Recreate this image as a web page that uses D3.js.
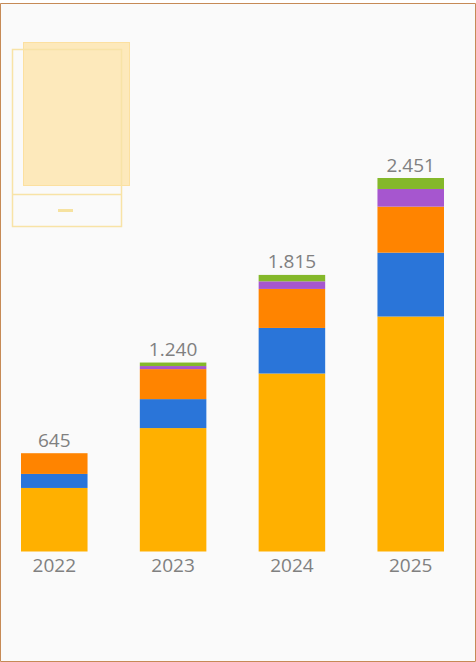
<!DOCTYPE html>
<html>
<head>
<meta charset="utf-8">
<script src="https://cdn.jsdelivr.net/npm/d3@7"></script>
<style>
html, body { margin: 0; padding: 0; background: #fff; overflow: hidden; }
svg { display: block; }
text { font-family: "Open Sans", sans-serif; fill: #808080; font-size: 19px; }
</style>
</head>
<body>
<svg id="chart" width="476" height="662"></svg>
<script>
// Annual totals split by category, bottom segment first
const years = ["2022", "2023", "2024", "2025"];
const seriesNames = ["a", "b", "c", "d", "e"];
const seriesColors = ["#ffb000", "#2a75d9", "#ff8400", "#a656cf", "#84b82a"];
const serieA = [417, 810, 1168, 1542];
const serieB = [92, 190, 299, 419];
const serieC = [136, 197, 256, 302];
const serieD = [0, 20, 50, 116];
const serieE = [0, 23, 42, 72];
const totals = [645, 1240, 1815, 2451];
const totalLabels = ["645", "1.240", "1.815", "2.451"];

const rows = years.map((y, i) => ({
  year: y, a: serieA[i], b: serieB[i], c: serieC[i], d: serieD[i], e: serieE[i]
}));

const width = 476, height = 662;
const svg = d3.select("#chart");

// Page frame
svg.append("rect").attr("x", 0).attr("y", 3).attr("width", width).attr("height", height - 3)
  .attr("fill", "#fafafa");
svg.append("path")
  .attr("d", `M0.5,3.5H${width - 0.5}V${height - 0.5}H0.5Z`)
  .attr("fill", "none").attr("stroke", "#c68a56").attr("stroke-width", 1);

// Empty legend placeholder behind the bars
const legend = svg.append("g");
legend.append("rect").attr("x", 23.5).attr("y", 42.5).attr("width", 106).attr("height", 143)
  .attr("fill", "#fde9bb").attr("stroke", "#fce0a0");
legend.append("rect").attr("x", 12.5).attr("y", 49.5).attr("width", 109).attr("height", 177)
  .attr("fill", "none").attr("stroke", "#f8e3a6").attr("stroke-width", 1.5);
legend.append("line").attr("x1", 12.5).attr("x2", 121.5).attr("y1", 194.5).attr("y2", 194.5)
  .attr("stroke", "#f8e3a6").attr("stroke-width", 1.5);
legend.append("rect").attr("x", 58).attr("y", 209).attr("width", 15).attr("height", 3)
  .attr("fill", "#f6e2a0");

const x = d3.scaleBand().domain(years).range([21, 444]).paddingInner(0.44).paddingOuter(0);
const y = d3.scaleLinear().domain([0, 2451]).range([551.5, 178]);

const stacked = d3.stack().keys(seriesNames)(rows);

svg.append("g").selectAll("g").data(stacked).join("g")
  .attr("fill", (d, i) => seriesColors[i])
  .selectAll("rect").data(d => d).join("rect")
  .attr("x", d => x(d.data.year))
  .attr("width", x.bandwidth())
  .attr("y", d => y(d[1]))
  .attr("height", d => y(d[0]) - y(d[1]));

// Total above each bar
svg.append("g").selectAll("text").data(years).join("text")
  .attr("x", d => x(d) + x.bandwidth() / 2)
  .attr("y", (d, i) => y(totals[i]) - 6.5)
  .attr("text-anchor", "middle")
  .text((d, i) => totalLabels[i]);

// Year axis without line or ticks
const axis = svg.append("g").attr("transform", `translate(0,${y(0)})`)
  .call(d3.axisBottom(x).tickSize(0).tickPadding(2));
axis.select(".domain").remove();
axis.selectAll("text").attr("font-size", null).attr("dy", "0.95em");
axis.attr("font-family", null).attr("font-size", null);
</script>
</body>
</html>
